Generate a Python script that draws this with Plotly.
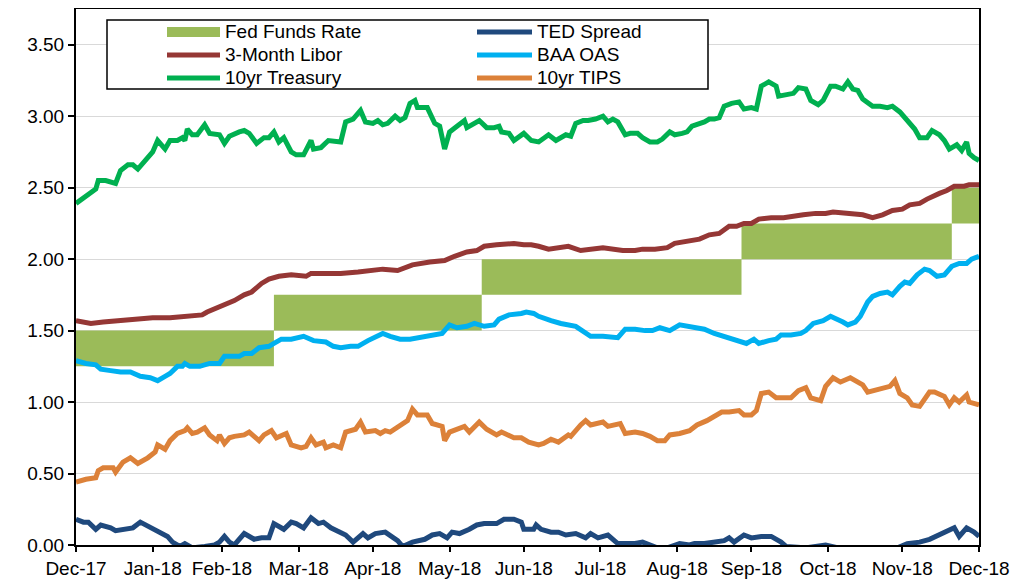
import pandas as pd
import plotly.graph_objects as go

BASE = pd.Timestamp("2017-12-31")


def to_dates(days):
    return [BASE + pd.Timedelta(days=int(d)) for d in days]


# x positions are "day of 2018" (0 = 31 Dec 2017)
# ---- Fed Funds target range (step band) ----
fed_days = [0, 80, 164, 269, 354, 365]
fed_lower = [1.25, 1.50, 1.75, 2.00, 2.25, 2.25]
fed_upper = [1.50, 1.75, 2.00, 2.25, 2.50, 2.50]

# ---- 10yr Treasury ----
tsy_days = [0, 3, 6, 8, 9, 12, 16, 18, 21, 23, 25, 27, 30, 31, 33, 36, 38, 41, 43, 44, 45, 47, 49, 52, 54,
            58, 60, 62, 66, 68, 70, 73, 76, 78, 80, 82, 84, 87, 89, 92, 95, 96, 99, 102, 107, 109, 112, 115,
            117, 120, 122, 124, 126, 129, 131, 133, 135, 137, 138, 142, 145, 147, 149, 151, 154, 157, 158,
            161, 163, 166, 169, 171, 172, 175, 177, 181, 184, 187, 191, 194, 198, 200, 202, 205, 207, 210,
            213, 215, 217, 219, 222, 224, 227, 229, 232, 235, 237, 240, 242, 245, 247, 249, 251, 254, 256,
            258, 260, 262, 265, 268, 270, 273, 275, 277, 280, 283, 284, 287, 290, 292, 295, 297, 300, 302,
            305, 307, 310, 312, 314, 316, 318, 322, 325, 328, 330, 333, 336, 339, 341, 344, 346, 349, 351,
            353, 356, 358, 360, 361, 363, 365]
tsy_vals = [2.39, 2.43, 2.47, 2.49, 2.55, 2.55, 2.53, 2.62, 2.66, 2.66, 2.63, 2.67, 2.73, 2.75, 2.83, 2.77,
            2.83, 2.83, 2.85, 2.83, 2.91, 2.87, 2.87, 2.94, 2.88, 2.87, 2.81, 2.86, 2.89, 2.90, 2.88, 2.81,
            2.85, 2.85, 2.89, 2.82, 2.85, 2.75, 2.73, 2.73, 2.83, 2.77, 2.78, 2.83, 2.82, 2.96, 2.98, 3.04,
            2.96, 2.95, 2.97, 2.94, 2.95, 3.00, 2.97, 2.99, 3.09, 3.11, 3.06, 3.06, 2.95, 2.93, 2.77, 2.89,
            2.93, 2.97, 2.92, 2.95, 2.97, 2.92, 2.92, 2.93, 2.89, 2.88, 2.83, 2.88, 2.83, 2.82, 2.87, 2.83,
            2.87, 2.86, 2.95, 2.97, 2.97, 2.98, 3.00, 2.96, 2.98, 2.96, 2.87, 2.88, 2.88, 2.85, 2.82, 2.82,
            2.84, 2.89, 2.87, 2.88, 2.89, 2.93, 2.94, 2.96, 2.98, 2.98, 2.99, 3.07, 3.09, 3.10, 3.05, 3.06,
            3.05, 3.21, 3.24, 3.21, 3.14, 3.15, 3.16, 3.20, 3.19, 3.11, 3.08, 3.11, 3.21, 3.21, 3.19, 3.24,
            3.19, 3.18, 3.12, 3.07, 3.07, 3.06, 3.07, 3.03, 2.97, 2.91, 2.85, 2.85, 2.90, 2.87, 2.83, 2.77,
            2.80, 2.76, 2.82, 2.74, 2.71, 2.69]

# ---- 3-Month Libor ----
libor_days = [0, 6, 11, 18, 25, 31, 38, 45, 51, 53, 57, 62, 64, 68, 71, 75, 78, 82, 87, 93, 95, 101, 107,
              114, 120, 124, 130, 136, 143, 149, 153, 158, 162, 165, 170, 174, 177, 181, 184, 187, 191, 199,
              204, 213, 218, 221, 226, 229, 234, 239, 242, 246, 250, 252, 256, 260, 264, 267, 270, 273, 276,
              281, 286, 289, 294, 299, 303, 306, 312, 314, 318, 322, 326, 330, 334, 337, 341, 344, 347, 349,
              352, 355, 359, 361, 365]
libor_vals = [1.57, 1.55, 1.56, 1.57, 1.58, 1.59, 1.59, 1.60, 1.61, 1.63, 1.66, 1.70, 1.71, 1.75, 1.77,
              1.83, 1.86, 1.88, 1.89, 1.88, 1.90, 1.90, 1.90, 1.91, 1.92, 1.93, 1.92, 1.96, 1.98, 1.99, 2.02,
              2.05, 2.06, 2.09, 2.10, 2.11, 2.11, 2.10, 2.10, 2.09, 2.07, 2.09, 2.06, 2.08, 2.07, 2.06, 2.06,
              2.07, 2.07, 2.08, 2.11, 2.12, 2.13, 2.14, 2.17, 2.18, 2.23, 2.23, 2.25, 2.25, 2.28, 2.29, 2.29,
              2.30, 2.31, 2.32, 2.32, 2.33, 2.32, 2.31, 2.31, 2.29, 2.31, 2.34, 2.35, 2.38, 2.39, 2.42, 2.45,
              2.46, 2.48, 2.51, 2.51, 2.52, 2.52]

# ---- BAA OAS ----
baa_days = [0, 4, 8, 10, 14, 18, 22, 26, 30, 33, 36, 38, 41, 43, 44, 46, 50, 54, 58, 60, 62, 66, 68, 71, 74,
            78, 80, 83, 87, 92, 96, 101, 104, 107, 111, 114, 118, 122, 124, 127, 131, 135, 139, 143, 148, 151,
            154, 158, 161, 165, 169, 171, 175, 180, 182, 185, 187, 192, 196, 202, 206, 208, 213, 219, 222,
            226, 230, 233, 236, 240, 244, 248, 254, 258, 262, 266, 271, 274, 276, 280, 283, 285, 289, 293,
            295, 298, 302, 305, 308, 310, 312, 315, 317, 320, 322, 325, 328, 330, 333, 335, 337, 340, 343,
            345, 348, 351, 354, 357, 360, 362, 365]
baa_vals = [1.29, 1.27, 1.26, 1.23, 1.22, 1.21, 1.21, 1.18, 1.17, 1.15, 1.18, 1.20, 1.25, 1.25, 1.27, 1.25,
            1.25, 1.27, 1.27, 1.32, 1.32, 1.32, 1.34, 1.34, 1.38, 1.39, 1.41, 1.44, 1.44, 1.46, 1.43, 1.42,
            1.39, 1.38, 1.39, 1.39, 1.43, 1.46, 1.48, 1.46, 1.44, 1.44, 1.45, 1.46, 1.48, 1.54, 1.52, 1.53,
            1.55, 1.53, 1.54, 1.58, 1.61, 1.62, 1.63, 1.62, 1.60, 1.57, 1.55, 1.53, 1.48, 1.46, 1.46, 1.45,
            1.51, 1.51, 1.50, 1.50, 1.52, 1.50, 1.54, 1.53, 1.51, 1.48, 1.46, 1.44, 1.41, 1.44, 1.41, 1.43,
            1.44, 1.47, 1.47, 1.48, 1.50, 1.55, 1.57, 1.60, 1.58, 1.56, 1.54, 1.56, 1.60, 1.70, 1.74, 1.76,
            1.77, 1.75, 1.81, 1.84, 1.83, 1.89, 1.93, 1.92, 1.88, 1.89, 1.95, 1.97, 1.97, 2.00, 2.02]

# ---- 10yr TIPS ----
tips_days = [0, 4, 8, 9, 11, 15, 16, 19, 22, 25, 29, 32, 33, 36, 38, 41, 44, 45, 47, 49, 52, 54, 57, 58, 60,
             62, 64, 68, 70, 74, 76, 79, 81, 85, 87, 91, 93, 95, 97, 100, 101, 104, 107, 109, 113, 115, 117,
             121, 123, 125, 127, 130, 132, 134, 136, 138, 142, 144, 148, 149, 151, 154, 157, 159, 163, 166,
             170, 172, 177, 180, 183, 187, 189, 192, 195, 199, 200, 204, 206, 208, 213, 215, 220, 222, 226,
             229, 232, 235, 238, 240, 244, 248, 251, 255, 258, 261, 264, 268, 270, 273, 275, 277, 280, 283,
             289, 292, 295, 297, 301, 303, 306, 309, 313, 316, 318, 320, 324, 326, 329, 331, 333, 336, 338,
             341, 345, 347, 351, 353, 355, 357, 360, 361, 365]
tips_vals = [0.44, 0.46, 0.47, 0.52, 0.54, 0.54, 0.51, 0.58, 0.61, 0.57, 0.61, 0.65, 0.70, 0.67, 0.73, 0.78,
             0.80, 0.82, 0.78, 0.79, 0.82, 0.77, 0.73, 0.77, 0.71, 0.75, 0.76, 0.77, 0.79, 0.73, 0.77, 0.80,
             0.75, 0.78, 0.70, 0.68, 0.69, 0.75, 0.70, 0.72, 0.68, 0.70, 0.68, 0.79, 0.81, 0.86, 0.79, 0.80,
             0.78, 0.80, 0.79, 0.82, 0.85, 0.87, 0.95, 0.91, 0.91, 0.85, 0.83, 0.73, 0.79, 0.81, 0.83, 0.79,
             0.86, 0.81, 0.77, 0.79, 0.75, 0.75, 0.72, 0.70, 0.71, 0.74, 0.72, 0.77, 0.76, 0.84, 0.87, 0.84,
             0.86, 0.83, 0.85, 0.78, 0.79, 0.78, 0.76, 0.73, 0.73, 0.77, 0.78, 0.80, 0.84, 0.87, 0.90, 0.93,
             0.93, 0.94, 0.91, 0.91, 0.94, 1.06, 1.07, 1.03, 1.03, 1.08, 1.10, 1.03, 1.01, 1.11, 1.17, 1.14,
             1.17, 1.14, 1.12, 1.07, 1.09, 1.10, 1.11, 1.15, 1.06, 1.03, 0.98, 0.97, 1.07, 1.07, 1.04, 0.98,
             1.03, 1.00, 1.05, 1.00, 0.98]

# ---- TED Spread ----
ted_days = [0, 3, 5, 8, 10, 14, 16, 19, 23, 26, 30, 33, 37, 39, 42, 44, 47, 52, 56, 58, 60, 62, 64, 68, 72,
            75, 78, 80, 84, 87, 89, 92, 95, 98, 100, 103, 107, 109, 112, 116, 118, 121, 125, 127, 130, 132,
            136, 141, 144, 147, 150, 152, 155, 159, 162, 165, 170, 173, 177, 180, 181, 185, 186, 188, 192,
            195, 198, 202, 206, 208, 211, 215, 219, 222, 226, 229, 232, 235, 239, 244, 248, 250, 254, 259,
            262, 264, 266, 270, 273, 277, 281, 285, 287, 295, 303, 308, 313, 320, 328, 332, 336, 341, 345,
            349, 352, 355, 357, 360, 363, 365]
ted_vals = [0.18, 0.16, 0.16, 0.11, 0.14, 0.12, 0.10, 0.11, 0.12, 0.16, 0.12, 0.09, 0.06, 0.02, -0.01, 0.01,
            -0.02, -0.01, 0.00, 0.02, 0.06, 0.02, 0.00, 0.08, 0.04, 0.05, 0.05, 0.15, 0.11, 0.16, 0.15, 0.12,
            0.19, 0.15, 0.16, 0.12, 0.08, 0.07, 0.02, 0.08, 0.05, 0.08, 0.09, 0.07, 0.03, -0.01, 0.02, 0.04,
            0.07, 0.08, 0.05, 0.09, 0.08, 0.11, 0.14, 0.15, 0.15, 0.18, 0.18, 0.16, 0.11, 0.11, 0.14, 0.11,
            0.09, 0.09, 0.07, 0.08, 0.05, 0.08, 0.05, 0.07, 0.01, 0.01, 0.01, 0.02, 0.00, -0.02, -0.02, 0.01,
            0.00, 0.01, 0.01, 0.02, 0.03, 0.05, 0.02, 0.07, 0.05, 0.06, 0.06, 0.02, -0.01, -0.02, 0.00, -0.02,
            -0.02, -0.03, -0.02, -0.02, 0.01, 0.02, 0.04, 0.07, 0.09, 0.12, 0.06, 0.12, 0.09, 0.06]

# ---- axis ticks ----
month_ends = ["2017-12-31", "2018-01-31", "2018-02-28", "2018-03-31", "2018-04-30", "2018-05-31",
              "2018-06-30", "2018-07-31", "2018-08-31", "2018-09-30", "2018-10-31", "2018-11-30",
              "2018-12-31"]
month_labels = ["Dec-17", "Jan-18", "Feb-18", "Mar-18", "Apr-18", "May-18", "Jun-18", "Jul-18",
                "Aug-18", "Sep-18", "Oct-18", "Nov-18", "Dec-18"]
y_ticks = [0.0, 0.5, 1.0, 1.5, 2.0, 2.5, 3.0, 3.5]

# ---- colours ----
C_FED = "#9BBB59"
C_TED = "#1F497D"
C_LIBOR = "#953735"
C_BAA = "#00B0F0"
C_TSY = "#00B050"
C_TIPS = "#DC8139"

FONT = "Arial, 'Liberation Sans', sans-serif"
LW = 5

fig = go.Figure()
fig.add_trace(go.Scatter(x=to_dates(fed_days), y=fed_lower, mode="lines",
                         line=dict(width=0, shape="hv", color=C_FED), hoverinfo="skip", showlegend=False))
fig.add_trace(go.Scatter(x=to_dates(fed_days), y=fed_upper, mode="lines", name="Fed Funds Rate",
                         line=dict(width=0, shape="hv", color=C_FED), fill="tonexty", fillcolor=C_FED,
                         showlegend=False))

series = [
    ("TED Spread", ted_days, ted_vals, C_TED),
    ("3-Month Libor", libor_days, libor_vals, C_LIBOR),
    ("BAA OAS", baa_days, baa_vals, C_BAA),
    ("10yr Treasury", tsy_days, tsy_vals, C_TSY),
    ("10yr TIPS", tips_days, tips_vals, C_TIPS),
]
for name, d, v, c in series:
    fig.add_trace(go.Scatter(x=to_dates(d), y=v, mode="lines", name=name,
                             line=dict(color=c, width=LW), showlegend=False))

# ---- geometry: page pixels (the page body has an 8px margin) ----
OFF = 8
PL, PR, PT, PB = 76, 979, 9, 545          # plot area in page pixels
W, H = 1019, 571                          # figure size


def fx(px):
    return (px - PL) / (PR - PL)


def fy(py):
    return (PB - py) / (PB - PT)


shapes = [dict(type="rect", xref="paper", yref="paper", x0=fx(107), x1=fx(708), y0=fy(89), y1=fy(20),
               line=dict(color="black", width=1.5), fillcolor="white", layer="above")]
annotations = []

legend_items = [
    ("Fed Funds Rate", C_FED, "rect", 0, 0),
    ("3-Month Libor", C_LIBOR, "line", 0, 1),
    ("10yr Treasury", C_TSY, "line", 0, 2),
    ("TED Spread", C_TED, "line", 1, 0),
    ("BAA OAS", C_BAA, "line", 1, 1),
    ("10yr TIPS", C_TIPS, "line", 1, 2),
]
col_sym = [(167, 220), (477, 532)]
row_y = [32, 55, 78]
for label, col, kind, ci, ri in legend_items:
    sx0, sx1 = col_sym[ci]
    yy = row_y[ri]
    if kind == "rect":
        shapes.append(dict(type="rect", xref="paper", yref="paper", x0=fx(sx0), x1=fx(sx1),
                           y0=fy(yy + 5), y1=fy(yy - 5), line=dict(width=0), fillcolor=col, layer="above"))
    else:
        shapes.append(dict(type="line", xref="paper", yref="paper", x0=fx(sx0), x1=fx(sx1),
                           y0=fy(yy), y1=fy(yy), line=dict(color=col, width=LW), layer="above"))
    annotations.append(dict(xref="paper", yref="paper", x=fx(sx1 + 3), y=fy(yy), text=label,
                            showarrow=False, xanchor="left", yanchor="middle",
                            font=dict(family=FONT, size=19, color="black")))

fig.update_layout(
    width=W, height=H,
    margin=dict(l=PL - OFF, r=W - (PR - OFF), t=PT - OFF, b=H - (PB - OFF), autoexpand=False),
    paper_bgcolor="white", plot_bgcolor="white",
    font=dict(family=FONT, size=19, color="black"),
    showlegend=False,
    shapes=shapes, annotations=annotations,
    xaxis=dict(type="date", range=[BASE, pd.Timestamp("2018-12-31")],
               tickmode="array", tickvals=month_ends, ticktext=month_labels,
               ticks="outside", ticklen=5, tickwidth=1.5, tickcolor="black",
               showline=True, linecolor="black", linewidth=2, mirror=True,
               showgrid=False, zeroline=False, automargin=False),
    yaxis=dict(range=[0, 3.75], tickmode="array", tickvals=y_ticks, tickformat=".2f",
               ticks="outside", ticklen=6, tickwidth=1.5, tickcolor="black",
               showline=True, linecolor="black", linewidth=2, mirror=True,
               showgrid=True, gridcolor="#D9D9D9", gridwidth=1, zeroline=False, automargin=False),
)

fig.write_html("out.html")
